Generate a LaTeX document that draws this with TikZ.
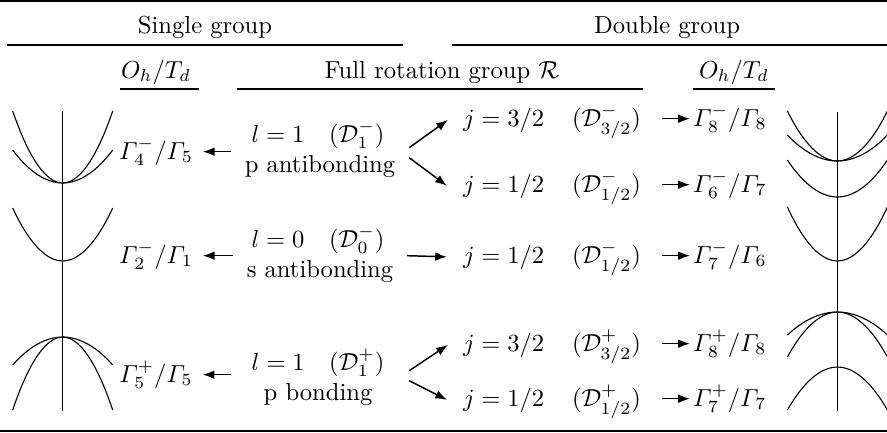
\documentclass[tikz,border=0pt]{standalone}
\usepackage{amsmath}
\usetikzlibrary{arrows.meta,calc}
\begin{document}
\begin{tikzpicture}[x=0.4065pt,y=-0.4065pt,
  lbl/.style={inner sep=0pt,outer sep=0pt,anchor=base},
  lblw/.style={inner sep=0pt,outer sep=0pt,anchor=base west},
  arr/.style={line width=0.6pt,-{Latex[length=4.8pt,width=3.5pt]}},
  band/.style={line width=0.45pt},
  rulethick/.style={line width=1pt},
  rulethin/.style={line width=0.7pt}]
\useasboundingbox (0,0) rectangle (887,432);

% rules
\draw[rulethick] (0,1.2) -- (887,1.2);
\draw[rulethick] (0,430.8) -- (887,430.8);
\draw[rulethin] (7,45) -- (403,45);
\draw[rulethin] (452,45) -- (887,45);
\draw[rulethin] (120,89) -- (199,89);
\draw[rulethin] (237,89) -- (643,89);
\draw[rulethin] (693,89) -- (775,89);

% headers
\node[lbl] (hs) at (205,33) {Single group};
\node[lbl] (hd) at (667,33) {Double group};
\node[lbl] (ohl) at (156,78) {$O_h/T_d$};
\node[lbl] (frg) at (442,78) {Full rotation group $\mathcal{R}$};
\node[lbl] (ohr) at (734,78) {$O_h/T_d$};

% left single-group labels
\node[lbl] (ga) at (156,159) {$\varGamma_4^-/\varGamma_5$};
\node[lbl] (gb) at (156,263) {$\varGamma_2^-/\varGamma_1$};
\node[lbl] (gc) at (156,382) {$\varGamma_5^+/\varGamma_5$};

% full rotation group
\node[lbl] (la) at (318,142) {$l=1\quad(\mathcal{D}_1^-)$};
\node[lbl] (pa) at (320,172) {p antibonding};
\node[lbl] (lb) at (318,247) {$l=0\quad(\mathcal{D}_0^-)$};
\node[lbl] (sa) at (320,277) {s antibonding};
\node[lbl] (lc) at (318,370) {$l=1\quad(\mathcal{D}_1^+)$};
\node[lbl] (pb) at (318,400) {p bonding};

% j states
\node[lblw] (j1) at (463,126) {$j=3/2$};
\node[lblw] (d1) at (572,126) {$(\mathcal{D}^-_{3/2})$};
\node[lblw] (j2) at (463,192) {$j=1/2$};
\node[lblw] (d2) at (572,192) {$(\mathcal{D}^-_{1/2})$};
\node[lblw] (j3) at (463,263) {$j=1/2$};
\node[lblw] (d3) at (572,263) {$(\mathcal{D}^-_{1/2})$};
\node[lblw] (j4) at (463,351) {$j=3/2$};
\node[lblw] (d4) at (572,351) {$(\mathcal{D}^+_{3/2})$};
\node[lblw] (j5) at (463,406) {$j=1/2$};
\node[lblw] (d5) at (572,406) {$(\mathcal{D}^+_{1/2})$};

% double group labels
\node[lblw] (r1) at (693,126) {$\varGamma_8^-/\varGamma_8$};
\node[lblw] (r2) at (693,192) {$\varGamma_6^-/\varGamma_7$};
\node[lblw] (r3) at (693,263) {$\varGamma_7^-/\varGamma_6$};
\node[lblw] (r4) at (693,351) {$\varGamma_8^+/\varGamma_8$};
\node[lblw] (r5) at (693,406) {$\varGamma_7^+/\varGamma_7$};

% left arrows
\draw[arr] ($(ga.east -| pa.west)+(-14,0)$) -- ($(ga.east)+(10,0)$);
\draw[arr] ($(gb.east -| sa.west)+(-14,0)$) -- ($(gb.east)+(10,0)$);
\draw[arr] ($(gc.east -| pa.west)+(-14,0)$) -- ($(gc.east)+(10,0)$);

% splitting arrows
\draw[arr] ($(ga.east -| pa.east)+(14,-4)$) -- ($(j1.west)+(-15,0)$);
\draw[arr] ($(ga.east -| pa.east)+(14,6)$) -- ($(j2.west)+(-16,0)$);
\draw[arr] ($(gb.east -| sa.east)+(14,0)$) -- ($(j3.west)+(-16,0)$);
\draw[arr] ($(gc.east -| pa.east)+(14,-4)$) -- ($(j4.west)+(-15,0)$);
\draw[arr] ($(gc.east -| pa.east)+(14,6)$) -- ($(j5.west)+(-16,0)$);

% right arrows
\foreach \d/\r in {d1/r1,d2/r2,d3/r3,d4/r4,d5/r5}
  \draw[arr] ($(\r.west -| \d.east)+(21,0)$) -- ($(\r.west)+(-3,0)$);

% left band structure
\draw[band] (62.7,111) -- (62.7,411);
\draw[band] (12.7,111) parabola bend (62.7,183) (112.7,111);
\draw[band] (12.7,150) parabola bend (62.7,183) (112.7,150);
\draw[band] (12.7,208) parabola bend (62.7,261) (112.7,208);
\draw[band] (12.7,365) parabola bend (62.7,337) (112.7,365);
\draw[band] (12.7,410) parabola bend (62.7,337) (112.7,410);

% right band structure
\draw[band] (837.4,111.5) -- (837.4,410.5);
\draw[band] (787.4,111) parabola bend (837.4,161) (887.4,111);
\draw[band] (787.4,135) parabola bend (837.4,161) (887.4,135);
\draw[band] (787.4,160) parabola bend (837.4,197) (887.4,160);
\draw[band] (787.4,207) parabola bend (837.4,261) (887.4,207);
\draw[band] (787.4,335) parabola bend (837.4,312) (887.4,335);
\draw[band] (787.4,357) parabola bend (837.4,312) (887.4,357);
\draw[band] (787.4,410) parabola bend (837.4,367) (887.4,410);
\end{tikzpicture}
\end{document}
